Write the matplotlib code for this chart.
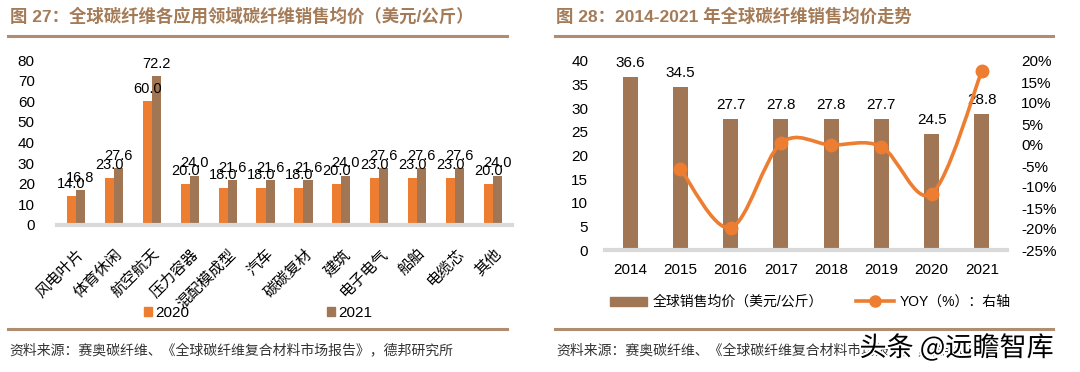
import matplotlib

matplotlib.use("Agg")
import matplotlib.pyplot as plt
import matplotlib.patheffects as pe
from matplotlib.lines import Line2D
from matplotlib.patches import Patch, PathPatch
from matplotlib.path import Path
import numpy as np

plt.rcParams["font.family"] = ["Liberation Sans", "Noto Sans CJK SC"]

# ---- data: left chart (figure 27) ----
apps = ["风电叶片", "体育休闲", "航空航天", "压力容器", "混配模成型", "汽车",
        "碳碳复材", "建筑", "电子电气", "船舶", "电缆芯", "其他"]
price_2020 = [14.0, 23.0, 60.0, 20.0, 18.0, 18.0, 18.0, 20.0, 23.0, 23.0, 23.0, 20.0]
price_2021 = [16.8, 27.6, 72.2, 24.0, 21.6, 21.6, 21.6, 24.0, 27.6, 27.6, 27.6, 24.0]

# ---- data: right chart (figure 28) ----
years = ["2014", "2015", "2016", "2017", "2018", "2019", "2020", "2021"]
avg_price = [36.6, 34.5, 27.7, 27.8, 27.8, 27.7, 24.5, 28.8]
yoy_pct = [None, -5.7, -19.7, 0.4, 0.0, -0.4, -11.6, 17.6]

ORANGE = "#ED7D31"
BROWN = "#A07654"
TITLE_C = "#A47B56"
RULE_C = "#B08D6E"
AXIS_GRAY = "#D9D9D9"
CJK = ["Noto Sans CJK SC"]

fig = plt.figure(figsize=(10.8, 3.72), dpi=100)
W, H = 1080, 372


def fx(px):
    return px / W


def fy(py):
    return 1 - py / H


def rule(x0, x1, y):
    fig.add_artist(Line2D([fx(x0), fx(x1)], [fy(y), fy(y)], color=RULE_C, lw=2.2))


# titles and rules
fig.text(fx(10), fy(16), "图 27：全球碳纤维各应用领域碳纤维销售均价（美元/公斤）",
         color=TITLE_C, fontsize=12.5, fontweight="bold", va="center", ha="left")
fig.text(fx(556), fy(16), "图 28：2014-2021 年全球碳纤维销售均价走势",
         color=TITLE_C, fontsize=12.5, fontweight="bold", va="center", ha="left")
rule(8, 507, 36)
rule(555, 1053, 36)
rule(8, 507, 329)
rule(555, 1053, 329)
src = "资料来源：赛奥碳纤维、《全球碳纤维复合材料市场报告》，德邦研究所"
fig.text(fx(9), fy(350), src, fontsize=10, color="#333333", va="center", family=CJK)
fig.text(fx(556), fy(350), src, fontsize=10, color="#333333", va="center", family=CJK)

# ---- left chart ----
ax = fig.add_axes([fx(57), fy(225), fx(512) - fx(57), fy(60) - fy(225)])
x = np.arange(len(apps))
bw = 0.24
b1 = ax.bar(x - bw / 2, price_2020, bw, color=ORANGE, label="2020")
b2 = ax.bar(x + bw / 2, price_2021, bw, color=BROWN, label="2021")
for bars, vals in ((b1, price_2020), (b2, price_2021)):
    for r, v in zip(bars, vals):
        ax.annotate(f"{v:.1f}", (r.get_x() + r.get_width() / 2, v), xytext=(0, 4),
                    textcoords="offset points", ha="center", va="bottom", fontsize=10.5)
ax.set_ylim(0, 80)
ax.set_xlim(-0.5, len(apps) - 0.5)
ax.set_yticks(range(0, 81, 10))
ax.set_xticks(x)
ax.set_xticklabels(apps, rotation=45, ha="right", rotation_mode="anchor",
                   fontsize=10.5, family=CJK)
ax.tick_params(axis="both", length=0, labelsize=11)
ax.tick_params(axis="y", pad=16)
ax.tick_params(axis="x", pad=15)
for s in ("top", "right", "left"):
    ax.spines[s].set_visible(False)
ax.spines["bottom"].set_color(AXIS_GRAY)
ax.spines["bottom"].set_linewidth(3)

fig.legend(handles=[Patch(color=ORANGE, label="2020"), Patch(color=BROWN, label="2021")],
           loc="center", bbox_to_anchor=(fx(258), fy(313)), ncol=2, frameon=False,
           fontsize=11, handlelength=0.55, handleheight=0.55, handletextpad=0.2,
           columnspacing=9.0)

# ---- right chart ----
axr = fig.add_axes([fx(605), fy(250), fx(1007) - fx(605), fy(61) - fy(250)])
xr = np.arange(len(years))
bars = axr.bar(xr, avg_price, 0.3, color=BROWN, zorder=2)
for r, v in zip(bars, avg_price):
    axr.annotate(f"{v:.1f}", (r.get_x() + r.get_width() / 2, v), xytext=(0, 5),
                 textcoords="offset points", ha="center", va="bottom", fontsize=11)
axr.set_ylim(0, 40)
axr.set_xlim(-0.5, len(years) - 0.5)
axr.set_yticks(range(0, 41, 5))
axr.set_xticks(xr)
axr.set_xticklabels(years)
axr.tick_params(axis="both", length=0, labelsize=11)
axr.tick_params(axis="y", pad=12)
axr.tick_params(axis="x", pad=9)
for s in ("top", "right", "left"):
    axr.spines[s].set_visible(False)
axr.spines["bottom"].set_color(AXIS_GRAY)
axr.spines["bottom"].set_linewidth(3)

ax2 = axr.twinx()
ax2.set_ylim(-25, 20)
ax2.set_yticks(range(-25, 21, 5))
ax2.set_yticklabels([f"{v}%" for v in range(-25, 21, 5)])
ax2.tick_params(axis="y", length=0, labelsize=11, pad=10)
for s in ax2.spines.values():
    s.set_visible(False)

# smoothed YOY line (Catmull-Rom style bezier through the data points)
pts = np.array([(i, v) for i, v in enumerate(yoy_pct) if v is not None], dtype=float)
verts = [tuple(pts[0])]
codes = [Path.MOVETO]
n = len(pts)
for i in range(n - 1):
    p0 = pts[max(i - 1, 0)]
    p1 = pts[i]
    p2 = pts[i + 1]
    p3 = pts[min(i + 2, n - 1)]
    c1 = p1 + (p2 - p0) / 6
    c2 = p2 - (p3 - p1) / 6
    verts += [tuple(c1), tuple(c2), tuple(p2)]
    codes += [Path.CURVE4] * 3
ax2.add_patch(PathPatch(Path(verts, codes), facecolor="none", edgecolor=ORANGE,
                        lw=2.6, zorder=3))
ax2.plot(pts[:, 0], pts[:, 1], "o", color=ORANGE, markersize=9, zorder=4)

fig.legend(handles=[Patch(color=BROWN, label="全球销售均价（美元/公斤）"),
                    Line2D([], [], color=ORANGE, lw=2.6, marker="o", markersize=8,
                           label="YOY（%）：右轴")],
           loc="center", bbox_to_anchor=(fx(810), fy(302)), ncol=2, frameon=False,
           handlelength=2.7, handleheight=0.6, handletextpad=0.4,
           columnspacing=2.4, prop={"family": ["Liberation Sans", "Noto Sans CJK SC"], "size": 10})

# watermark
fig.text(fx(1054), fy(348), "头条 @远瞻智库", fontsize=19.5, color="black", ha="right",
         va="center", family=CJK,
         path_effects=[pe.withStroke(linewidth=3, foreground="white")])

fig.savefig("out.png", dpi=100)
